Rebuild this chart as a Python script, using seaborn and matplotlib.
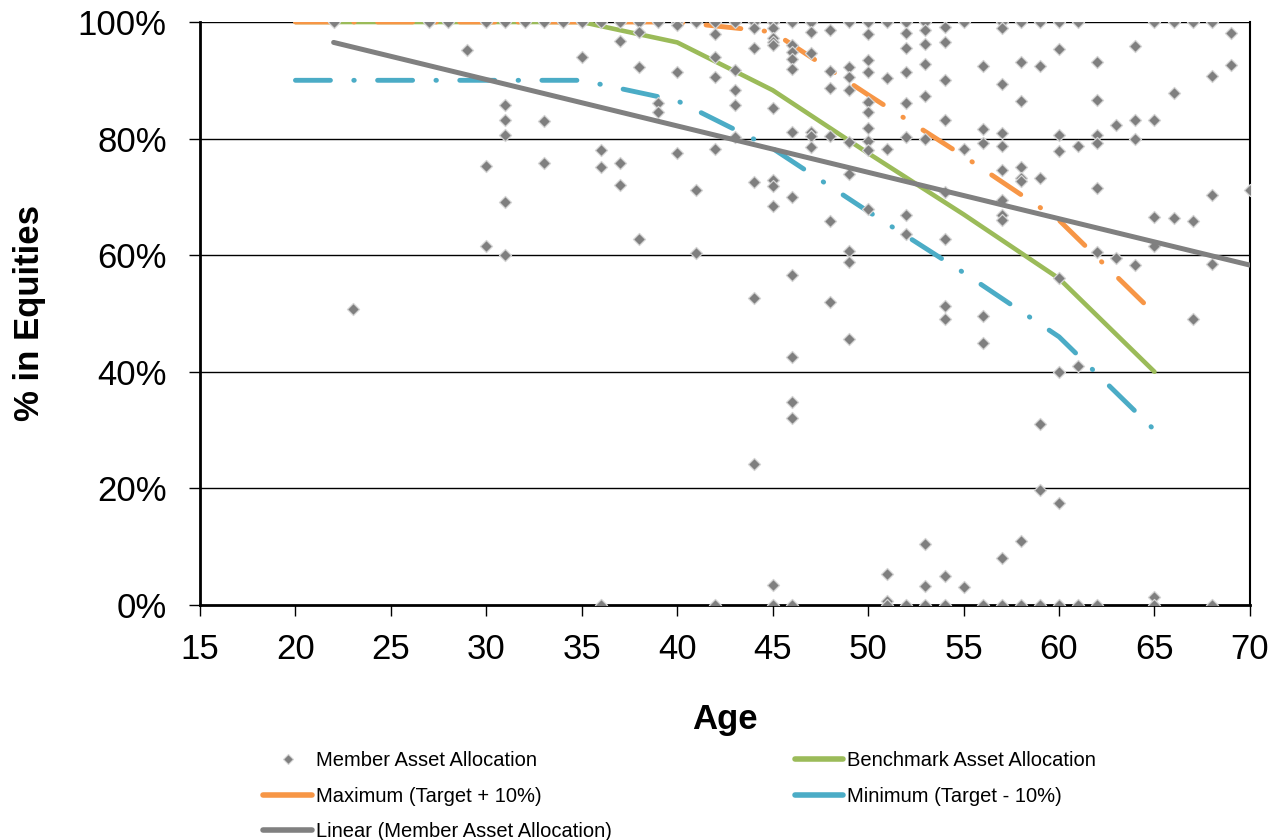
import numpy as np
import pandas as pd
import seaborn as sns
import matplotlib.pyplot as plt
from matplotlib.lines import Line2D

# member allocations (age -> list of % in equities)
member_age = (
    [22, 23, 27, 28, 29]
    + [30] * 3 + [31] * 6 + [32] + [33] * 3 + [34] + [35] * 2 + [36] * 4
    + [37] * 4 + [38] * 4 + [39] * 3 + [40] * 4 + [41] * 3 + [42] * 6
    + [43] * 5 + [44] * 6 + [45] * 11 + [46] * 12 + [47] * 6 + [48] * 6
    + [49] * 9 + [50] * 10 + [51] * 6 + [52] * 9 + [53] * 9 + [54] * 10
    + [55] * 3 + [56] * 6 + [57] * 11 + [58] * 8 + [59] * 6 + [60] * 8
    + [61] * 4 + [62] * 7 + [63] * 2 + [64] * 4 + [65] * 6 + [66] * 3
    + [67] * 3 + [68] * 5 + [69] * 2 + [70]
)
member_pct = [
    100, 50.7, 100, 100, 95.2,
    100, 75.3, 61.5,
    100, 85.8, 83.2, 80.6, 69.2, 60.0,
    100,
    100, 83.1, 75.9,
    100,
    100, 94.0,
    100, 78.0, 75.2, 0,
    100, 96.7, 75.9, 72.0,
    100, 98.3, 92.2, 62.8,
    100, 86.1, 84.5,
    100, 99.5, 91.5, 77.5,
    100, 71.1, 60.3,
    100, 97.9, 94.0, 90.6, 78.2, 0,
    100, 91.8, 88.4, 85.7, 80.3,
    100, 98.9, 95.6, 72.6, 52.7, 24.2,
    100, 98.9, 97.2, 96.6, 96.1, 85.2, 72.9, 71.8, 68.5, 3.4, 0,
    100, 96.1, 94.9, 93.6, 91.9, 81.2, 69.9, 56.6, 42.6, 34.9, 32.1, 0,
    100, 98.3, 94.6, 81.2, 80.5, 78.6,
    98.7, 91.6, 88.7, 80.4, 65.9, 52.0,
    100, 92.3, 90.6, 88.3, 79.5, 74.0, 60.8, 58.8, 45.6,
    100, 97.9, 93.5, 91.5, 86.3, 84.5, 81.9, 79.6, 78.0, 68.0,
    100, 90.4, 78.3, 5.3, 0.7, 0,
    100, 98.2, 95.5, 91.5, 86.1, 80.3, 66.9, 63.6, 0,
    100, 98.6, 96.2, 92.8, 87.3, 79.9, 10.4, 3.3, 0,
    99.2, 96.5, 90.1, 83.2, 70.9, 62.7, 51.2, 49.1, 4.9, 0,
    100, 78.3, 3.0,
    92.5, 81.6, 79.2, 49.6, 45.0, 0,
    100, 98.9, 89.3, 81.0, 78.7, 74.6, 69.5, 66.9, 66.0, 8.0, 0,
    100, 93.1, 86.5, 75.1, 73.2, 72.7, 11.0, 0,
    100, 92.5, 73.2, 31.0, 19.7, 0,
    100, 95.3, 80.6, 77.8, 56.1, 40.0, 17.5, 0,
    100, 78.8, 41.0, 0,
    93.2, 86.6, 80.6, 79.3, 71.6, 60.5, 0,
    82.3, 59.6,
    95.9, 83.2, 79.9, 58.3,
    100, 83.2, 66.6, 61.6, 1.3, 0,
    100, 87.8, 66.3,
    100, 65.9, 49.1,
    100, 90.7, 70.3, 58.5, 0,
    98.2, 92.7,
    71.1,
]

# glide path lines
path_age = [20, 25, 30, 35, 40, 45, 50, 55, 60, 65]
benchmark = [100, 100, 100, 100, 96.5, 88.3, 77.5, 67.0, 56.0, 40.0]
maximum = [100, 100, 100, 100, 100, 98.3, 87.5, 77.0, 66.0, 50.0]
minimum = [90, 90, 90, 90, 86.5, 78.3, 67.5, 57.0, 46.0, 30.0]

# linear trendline end points
trend_age = [22, 70]
trend_pct = [96.5, 58.3]

df = pd.DataFrame({'age': member_age, 'pct': member_pct})

sns.set_style('white')
plt.rcParams['font.family'] = ['Liberation Sans', 'DejaVu Sans']
plt.rcParams['text.color'] = 'black'
plt.rcParams['axes.labelcolor'] = 'black'
plt.rcParams['xtick.color'] = 'black'
plt.rcParams['ytick.color'] = 'black'

c_bench, c_max, c_min, c_gray = '#9BBB59', '#F79646', '#4BACC6', '#808080'

fig = plt.figure(figsize=(12.82, 8.4), dpi=100)
ax = fig.add_axes([0.156, 0.2798, 0.819, 0.694])

for y in [20, 40, 60, 80, 100]:
    ax.axhline(y, color='black', lw=1, zorder=0)

dashdot = (0, (7.2, 4.8, 0.1, 4.8))

sns.lineplot(x=path_age, y=benchmark, ax=ax, color=c_bench, lw=3.3, zorder=3)
sns.lineplot(x=path_age, y=maximum, ax=ax, color=c_max, lw=3.5,
             linestyle=dashdot, dash_capstyle='round', zorder=3)
sns.lineplot(x=path_age, y=minimum, ax=ax, color=c_min, lw=3.5,
             linestyle=dashdot, dash_capstyle='round', zorder=3)
sns.scatterplot(data=df, x='age', y='pct', ax=ax, marker='D', s=38,
                color='#7F7F7F', edgecolor='#D4D4D4', linewidth=0.9, zorder=4)
sns.lineplot(x=trend_age, y=trend_pct, ax=ax, color=c_gray, lw=3.6,
             solid_capstyle='round', zorder=5)

ax.set_xlim(15, 70)
ax.set_ylim(0, 100)
ax.set_xticks(range(15, 71, 5))
ax.set_yticks(range(0, 101, 20))
ax.set_yticklabels([f'{v}%' for v in range(0, 101, 20)])
ax.tick_params(axis='both', direction='out', length=8, width=1,
               color='black', labelcolor='black', labelsize=25,
               bottom=True, left=True)
ax.tick_params(axis='y', pad=16)
ax.tick_params(axis='x', pad=12)

for side in ['left', 'bottom']:
    ax.spines[side].set_color('black')
    ax.spines[side].set_linewidth(2)
ax.spines['right'].set_color('black')
ax.spines['right'].set_linewidth(1.5)
ax.spines['top'].set_visible(False)

ax.set_xlabel('Age', fontsize=25, fontweight='bold', labelpad=27)
ax.set_ylabel('% in Equities', fontsize=25, fontweight='bold', labelpad=23)

# legend with solid line swatches, as in the original
h_member = Line2D([], [], ls='none', marker='D', ms=5, color='#7F7F7F',
                  markeredgecolor='#D4D4D4', markeredgewidth=0.8)
h_max = Line2D([], [], color=c_max, lw=4, solid_capstyle='round')
h_lin = Line2D([], [], color=c_gray, lw=4, solid_capstyle='round')
h_bench = Line2D([], [], color=c_bench, lw=4, solid_capstyle='round')
h_min = Line2D([], [], color=c_min, lw=4, solid_capstyle='round')
handles = [h_member, h_max, h_lin, h_bench, h_min]
labels = ['Member Asset Allocation', 'Maximum (Target + 10%)',
          'Linear (Member Asset Allocation)', 'Benchmark Asset Allocation',
          'Minimum (Target - 10%)']
fig.legend(handles, labels, loc='upper left', bbox_to_anchor=(0.2055, 0.106),
           ncol=2, frameon=False, fontsize=14.5, handlelength=2.4,
           handletextpad=0.2, labelspacing=0.83, columnspacing=9.1,
           borderpad=0, borderaxespad=0)

fig.savefig('out.png', dpi=100)
